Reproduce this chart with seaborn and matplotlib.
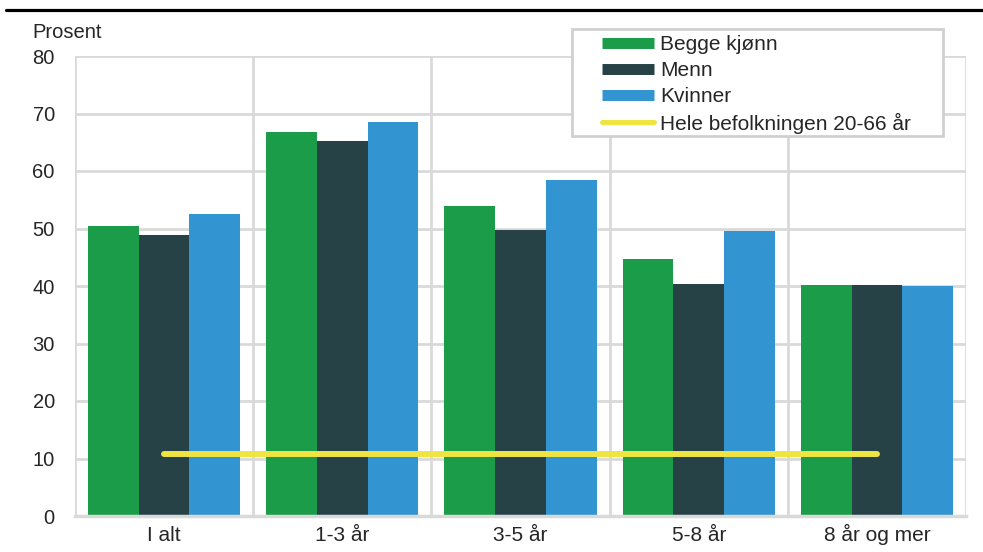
import matplotlib
matplotlib.use("Agg")
import matplotlib.pyplot as plt
import seaborn as sns
import pandas as pd
from matplotlib.lines import Line2D
from matplotlib.patches import Rectangle

categories = ["I alt", "1-3 år", "3-5 år", "5-8 år", "8 år og mer"]
series_names = ["Begge kjønn", "Menn", "Kvinner"]
begge = [50.5, 66.8, 53.9, 44.7, 40.1]
menn = [48.9, 65.3, 49.8, 40.3, 40.2]
kvinner = [52.5, 68.6, 58.4, 49.6, 40.0]
hele_label = "Hele befolkningen 20-66 år"
hele = [10.8, 10.8, 10.8, 10.8, 10.8]
yticks = [0, 10, 20, 30, 40, 50, 60, 70, 80]

colors = ["#1b9c48", "#274247", "#3394d2"]
yellow = "#f0e442"
grid_c = "#d9d9d9"
text_c = "#262626"

sns.set_theme(style="white")
plt.rcParams["font.family"] = ["Liberation Sans", "DejaVu Sans"]

rows = []
for name, vals in zip(series_names, [begge, menn, kvinner]):
    for c, v in zip(categories, vals):
        rows.append({"kat": c, "serie": name, "verdi": v})
df = pd.DataFrame(rows)

fig = plt.figure(figsize=(9.83, 5.52), dpi=100)
ax = fig.add_axes([75/983, 1-516/552, (966-75)/983, (516-56)/552])

sns.barplot(data=df, x="kat", y="verdi", hue="serie", order=categories,
            hue_order=series_names, palette=colors, width=0.855,
            saturation=1, ax=ax, legend=False, zorder=3,
            edgecolor="none", linewidth=0)

line_df = pd.DataFrame({"kat": categories, "verdi": hele})
sns.lineplot(data=line_df, x="kat", y="verdi", color=yellow, linewidth=4.3,
             solid_capstyle="round", ax=ax, zorder=5)

ax.set_xlim(-0.5, len(categories) - 0.5)
ax.set_ylim(0, 80)
ax.set_yticks(yticks)
ax.set_yticklabels([str(t) for t in yticks], fontsize=14.5, color=text_c)
ax.tick_params(axis="x", labelsize=15, colors=text_c, length=0, pad=18)
for lab in ax.get_xticklabels():
    lab.set_va("baseline")
ax.tick_params(axis="y", length=0, pad=14.5)
ax.set_xlabel("")
ax.set_ylabel("")

ax.yaxis.grid(True, color=grid_c, linewidth=2, zorder=0)
ax.set_axisbelow(True)
for i in range(len(categories) + 1):
    ax.axvline(i - 0.5, color=grid_c, linewidth=2, zorder=0.5)
for s in ["top", "right", "left"]:
    ax.spines[s].set_visible(False)
ax.spines["bottom"].set_color(grid_c)
ax.spines["bottom"].set_linewidth(2.5)
ax.spines["bottom"].set_zorder(4)

# legend frame
fig.add_artist(Rectangle((572/983, 1-136/552), (943-572)/983, (136-29)/552,
                         transform=fig.transFigure, facecolor="white",
                         edgecolor="#d0d0d0", linewidth=2, zorder=9))

handles = [Line2D([0], [0], color=c, linewidth=7.9, solid_capstyle="butt") for c in colors]
handles.append(Line2D([0], [0], color=yellow, linewidth=3.6, solid_capstyle="round"))
leg = fig.legend(handles, series_names + [hele_label], loc="upper left",
                 bbox_to_anchor=(602/983, 1-35.5/552), fontsize=15,
                 frameon=False, handlelength=2.5,
                 handletextpad=0.29, labelspacing=0.32, borderpad=0,
                 borderaxespad=0, labelcolor=text_c)
leg.set_zorder(10)

fig.text(32/983, 1-33/552, "Prosent", fontsize=14.5, color=text_c,
         ha="left", va="center")
fig.add_artist(Line2D([6/983, 983/983], [1-9.5/552, 1-9.5/552], color="black",
                      linewidth=2.3, transform=fig.transFigure))

fig.savefig("out.png", dpi=100)
